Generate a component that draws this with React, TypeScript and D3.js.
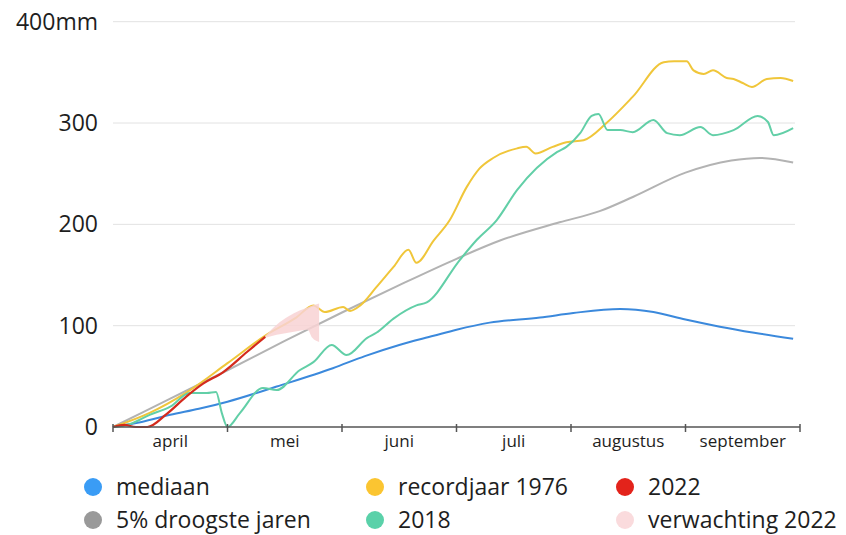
import * as React from 'react';
import { scaleLinear, line, area, curveMonotoneX } from 'd3';

// x = months since 1 april, y = neerslagtekort in mm
const months = ['april', 'mei', 'juni', 'juli', 'augustus', 'september'];
const yTicks = [0, 100, 200, 300, 400];

const mediaan: [number, number][] = [
  [0, 0], [0.25, 5], [0.5, 12], [0.75, 18], [1.0, 25], [1.43, 40], [1.92, 58], [2.2, 70],
  [2.5, 81], [2.8, 90], [3.0, 96], [3.29, 103], [3.73, 108], [4.02, 112.5], [4.43, 116.5],
  [4.72, 113.5], [5.0, 106], [5.3, 99], [5.6, 93], [5.94, 87],
];

const droogste: [number, number][] = [
  [0, 0], [0.5, 28], [1.0, 56], [1.5, 85], [2.0, 113], [2.5, 140], [3.0, 166], [3.38, 184],
  [3.9, 202], [4.25, 213], [4.54, 227], [5.0, 251], [5.4, 263], [5.65, 265.5], [5.94, 261],
];

const jaar1976: [number, number][] = [
  [0, 0], [0.32, 14], [0.64, 34], [1.0, 63], [1.34, 91], [1.6, 108], [1.75, 120], [1.85, 113.5],
  [2.01, 118.5], [2.07, 114.5], [2.16, 120], [2.3, 138], [2.45, 158], [2.58, 175], [2.65, 162],
  [2.8, 184], [2.94, 204], [3.09, 237], [3.2, 255], [3.32, 265.5], [3.53, 275], [3.61, 276.5],
  [3.69, 270], [3.84, 276.5], [3.96, 281], [4.11, 283], [4.31, 300], [4.54, 326], [4.81, 360],
  [4.9, 361], [5.01, 361], [5.07, 352], [5.16, 348.5], [5.24, 352], [5.36, 344.5], [5.42, 343.5],
  [5.5, 339.5], [5.58, 335.6], [5.71, 343.5], [5.83, 344.5], [5.94, 341.5],
];

const jaar2018: [number, number][] = [
  [0, 0], [0.15, 3], [0.32, 12], [0.5, 20], [0.67, 33.6], [0.82, 33.5], [0.9, 34.5], [0.95, 14],
  [1.0, 0], [1.11, 14], [1.31, 38.5], [1.43, 36.5], [1.63, 56], [1.75, 64], [1.91, 81], [2.04, 71],
  [2.22, 88], [2.3, 93], [2.45, 107], [2.65, 120], [2.74, 123], [3.03, 165], [3.18, 185],
  [3.35, 204], [3.53, 234], [3.88, 271.5], [3.96, 276.5], [4.08, 290], [4.18, 307], [4.24, 309],
  [4.32, 293], [4.43, 293], [4.54, 291], [4.72, 303], [4.84, 290], [4.95, 288], [5.13, 296],
  [5.24, 288], [5.42, 293], [5.63, 307], [5.72, 301], [5.77, 288], [5.94, 295],
];

const jaar2022: [number, number][] = [
  [0, 0], [0.1, 2], [0.2, 0], [0.3, 0], [0.47, 13], [0.64, 30], [0.79, 43], [0.96, 54],
  [1.17, 74], [1.33, 89],
];

// [month, low, high]
const verwachting: [number, number, number][] = [
  [1.33, 88, 90], [1.43, 91, 101], [1.53, 93, 109], [1.63, 95, 115], [1.7, 96, 118],
  [1.74, 88, 120], [1.8, 84, 122],
];

const legend = [
  { label: 'mediaan', color: '#3a9cf5', col: 0, row: 0 },
  { label: '5% droogste jaren', color: '#999999', col: 0, row: 1 },
  { label: 'recordjaar 1976', color: '#fbc531', col: 1, row: 0 },
  { label: '2018', color: '#5ad1a9', col: 1, row: 1 },
  { label: '2022', color: '#e3231b', col: 2, row: 0 },
  { label: 'verwachting 2022', color: '#fadbdd', col: 2, row: 1 },
];

const font = '"Open Sans", sans-serif';

export default function App() {
  const x = scaleLinear().domain([0, 6]).range([113, 800]);
  const y = scaleLinear().domain([0, 400]).range([427, 21.7]);

  const mkLine = line<[number, number]>()
    .x(d => x(d[0]))
    .y(d => y(d[1]))
    .curve(curveMonotoneX);

  const band = area<[number, number, number]>()
    .x(d => x(d[0]))
    .y0(d => y(d[1]))
    .y1(d => y(d[2]))
    .curve(curveMonotoneX);

  const series = [
    { data: droogste, color: '#b3b3b3' },
    { data: mediaan, color: '#3b89dc' },
    { data: jaar1976, color: '#f0c63a' },
    { data: jaar2018, color: '#62cfa7' },
  ];

  const legendX = [93, 375, 625];
  const legendY = [487, 520];

  return (
    <svg width={846} height={535} style={{ position: 'absolute', left: 0, top: 0, background: '#fff' }}>
      {yTicks.map(t => (
        <g key={t}>
          {t > 0 && <line x1={113} x2={795} y1={y(t)} y2={y(t)} stroke="#e2e2e2" strokeWidth={1} />}
          <text x={98} y={y(t) + 8} textAnchor="end" fontFamily={font} fontSize={23} fill="#1e1e1e">
            {t === 400 ? '400mm' : t}
          </text>
        </g>
      ))}

      {series.map((s, i) => (
        <path key={i} d={mkLine(s.data) || ''} fill="none" stroke={s.color} strokeWidth={2} />
      ))}
      <path d={band(verwachting) || ''} fill="#f8d2d4" opacity={0.85} />
      <path d={mkLine(jaar2022) || ''} fill="none" stroke="#d42a1c" strokeWidth={2.2} />

      <line x1={113} x2={800} y1={427} y2={427} stroke="#555" strokeWidth={1.5} />
      {[0, 1, 2, 3, 4, 5, 6].map(m => (
        <line key={m} x1={x(m)} x2={x(m)} y1={424} y2={432} stroke="#555" strokeWidth={1.5} />
      ))}
      {months.map((m, i) => (
        <text key={m} x={x(i + 0.5)} y={447} textAnchor="middle" fontFamily={font} fontSize={17} fill="#1e1e1e">
          {m}
        </text>
      ))}

      {legend.map(l => (
        <g key={l.label}>
          <circle cx={legendX[l.col]} cy={legendY[l.row]} r={9} fill={l.color} />
          <text x={legendX[l.col] + 23} y={legendY[l.row] + 8} fontFamily={font} fontSize={23} fill="#1e1e1e">
            {l.label}
          </text>
        </g>
      ))}
    </svg>
  );
}
